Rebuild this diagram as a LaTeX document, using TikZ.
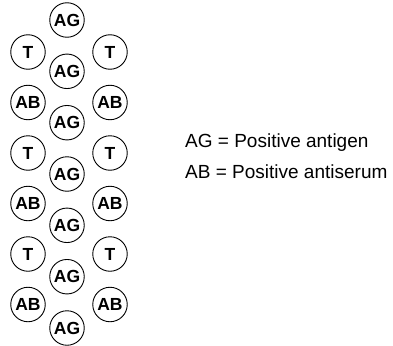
\documentclass[tikz,border=0pt]{standalone}
\usepackage{fontspec}
\setmainfont{Liberation Sans}
\begin{document}
\begin{tikzpicture}[x=1pt,y=-1pt,
  well/.style={circle,draw=black,line width=0.9pt,minimum size=34.5pt,inner sep=0pt,
    font=\fontsize{17.5}{17.5}\selectfont\bfseries},
  legend/.style={anchor=base west,inner sep=0pt,font=\fontsize{19}{19}\selectfont}]
\useasboundingbox (0,0) rectangle (393,345);
% centre column
\foreach \i/\y in {1/20,2/71.3,3/122.7,4/174,5/225.3,6/276.7,7/328}
  \node[well] (ag\i) at (67,\y) {AG};
% side columns
\foreach \i/\y/\t in {1/52/T,2/102.5/AB,3/153/T,4/203.5/AB,5/254/T,6/304.5/AB}{
  \node[well] (l\i) at (28,\y) {\t};
  \node[well] (r\i) at (110,\y) {\t};
}
\node[legend] (lg1) at (185,147) {AG = Positive antigen};
\node[legend] (lg2) at (185,178) {AB = Positive antiserum};
\end{tikzpicture}
\end{document}
